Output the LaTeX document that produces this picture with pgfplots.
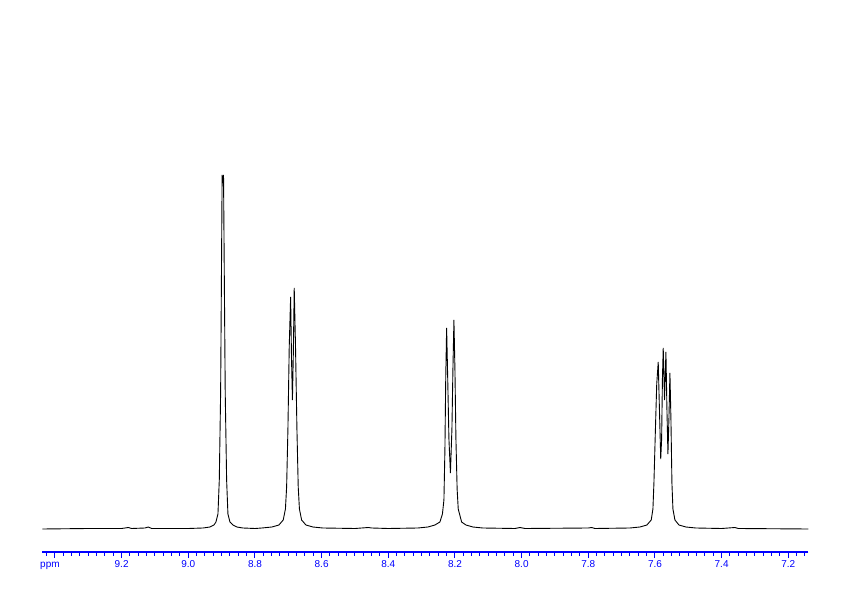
\documentclass[border=0pt]{standalone}
\usepackage{pgfplots}
\pgfplotsset{compat=1.18}
\usepackage{fontspec}
\setmainfont{Liberation Sans}

% 1H NMR spectrum, aromatic region (x in ppm, y = intensity in px above baseline)
\pgfplotstableread{
ppm     h
9.438   0
9.300   0.5
9.200   0.5
9.180   1.5
9.170   0.5
9.130   1
9.120   2
9.110   0.5
9.000   0.5
8.956   1
8.935   2
8.923   4
8.917   7
8.911   15
8.907   49
8.903   136
8.9006  250
8.8985  354
8.8964  346
8.8943  354
8.8919  250
8.8892  136
8.8850  49
8.8811  15
8.8751  7
8.8661  4
8.8541  2
8.8361  1
8.8000  0.5
8.7791  1
8.7491  2
8.7281  4
8.7152  9
8.7086  20
8.7050  42
8.7011  100
8.6972  182
8.6930  232
8.6903  170
8.6876  129
8.6849  175
8.6822  241
8.6783  182
8.6741  100
8.6702  42
8.6666  20
8.6600  9
8.6471  4
8.6261  2
8.5961  1
8.5000  0.5
8.4600  1.5
8.4500  1
8.4000  0.5
8.3111  1
8.2811  2
8.2601  4
8.2451  7
8.2376  15
8.2331  29
8.2301  80
8.2277  150
8.2250  201
8.2217  150
8.2181  90
8.2136  56
8.2091  100
8.2061  160
8.2031  209
8.2001  160
8.1971  90
8.1935  40
8.1902  20
8.1800  7
8.1671  4
8.1461  2
8.1161  1
8.0200  0.5
8.0050  1.5
7.9900  0.5
7.8000  1
7.7900  1.5
7.7800  0.5
7.6751  1
7.6451  2
7.6241  4
7.6112  9
7.6061  20
7.6031  46
7.5986  100
7.5947  145
7.5902  167
7.5866  120
7.5827  70
7.5800  90
7.5776  150
7.5752  181
7.5713  129
7.5671  177
7.5641  120
7.5611  75
7.5581  110
7.5551  156
7.5521  110
7.5491  46
7.5461  20
7.5401  9
7.5281  4
7.5071  2
7.4771  1
7.4000  0.5
7.3600  1.5
7.3500  0.5
7.1400  0
}\spectrum

\begin{document}
\begin{tikzpicture}
\useasboundingbox (0,0) rectangle (842bp,596bp);
\begin{axis}[
    at={(42.3bp,44bp)}, anchor=south west,
    scale only axis,
    width=766bp, height=552bp,
    xmin=7.140, xmax=9.438,
    ymin=-23, ymax=529,
    x dir=reverse,
    axis x line=bottom,
    axis y line=none,
    axis line style={-, blue, line width=1.3bp},
    xtick={9.4,9.2,9.0,8.8,8.6,8.4,8.2,8.0,7.8,7.6,7.4,7.2},
    xticklabels={,9.2,9.0,8.8,8.6,8.4,8.2,8.0,7.8,7.6,7.4,7.2},
    minor xtick={7.150,7.175,...,9.425},
    tick align=outside,
    major tick length=6bp,
    minor tick length=3.5bp,
    tick style={blue, line width=1bp},
    xticklabel style={text=blue, font=\fontsize{10bp}{10bp}\selectfont, inner sep=0pt, yshift=-2bp},
    clip=false,
]
\addplot[black, line width=0.9bp] table[x=ppm, y=h] {\spectrum};
\node[text=blue, font=\fontsize{10bp}{10bp}\selectfont, anchor=north, inner sep=0pt]
    at (axis cs:9.415,-23) [yshift=-10bp] {ppm};
\end{axis}
\end{tikzpicture}
\end{document}
